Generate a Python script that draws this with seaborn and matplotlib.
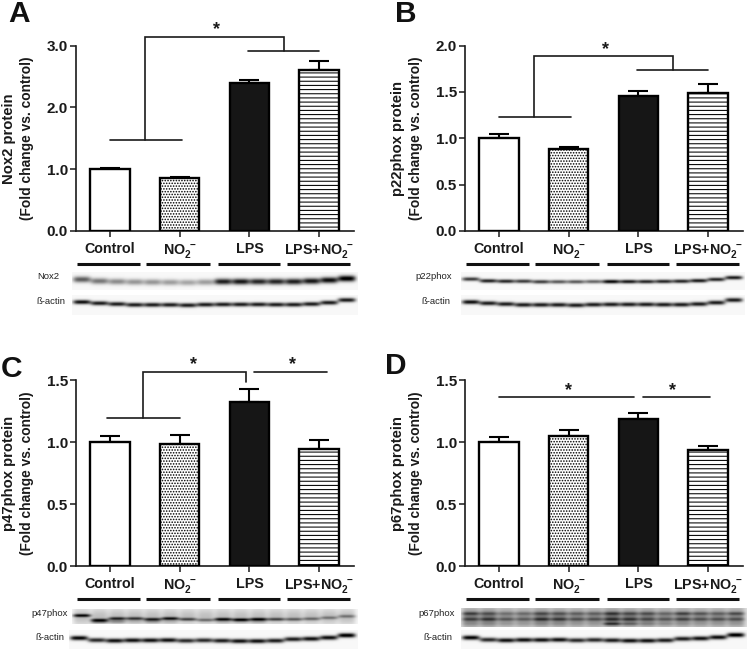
import numpy as np
import pandas as pd
import seaborn as sns
import matplotlib.pyplot as plt
from matplotlib.transforms import blended_transform_factory

sns.set_theme(style="ticks")
plt.rcParams['font.family'] = ['Liberation Sans', 'DejaVu Sans']
plt.rcParams['mathtext.fontset'] = 'custom'
plt.rcParams['mathtext.bf'] = 'Liberation Sans:bold'
plt.rcParams['mathtext.rm'] = 'Liberation Sans:bold'
plt.rcParams['hatch.linewidth'] = 0.75

# Datos de las barras
grupos = ["Control", r"$\mathbf{NO_2^{\ -}}$", "LPS", r"LPS+$\mathbf{NO_2^{\ -}}$"]
nox2_valores = [1.00, 0.85, 2.40, 2.61]
nox2_error = [0.02, 0.02, 0.05, 0.14]
p22_valores = [1.00, 0.88, 1.46, 1.49]
p22_error = [0.05, 0.03, 0.05, 0.10]
p47_valores = [1.00, 0.99, 1.33, 0.95]
p47_error = [0.05, 0.07, 0.10, 0.07]
p67_valores = [1.00, 1.05, 1.19, 0.94]
p67_error = [0.04, 0.05, 0.05, 0.03]
ticks_a = [0.0, 1.0, 2.0, 3.0]
ticks_b = [0.0, 0.5, 1.0, 1.5, 2.0]
ticks_cd = [0.0, 0.5, 1.0, 1.5]

# Oscuridad de cada carril en las membranas (16 carriles)
nox2_carriles = [.6, .5, .42, .38, .38, .35, .32, .35, .85, .88, .82, .82, .85, .88, .92, 1.0]
nox2_despl = [-.12, -.03, 0, .02, .03, .04, .05, .03, 0, 0, 0, 0, 0, -.03, -.08, -.17]
p22_carriles = [.72, .82, .8, .72, .7, .6, .6, .55, .92, .85, .8, .8, .8, .85, .8, .85]
p22_despl = [-.12, -.02, 0, 0, .03, .03, .03, .02, .02, .02, .02, .01, 0, -.03, -.1, -.2]
p47_carriles = [.72, .55, .6, .55, .6, .68, .5, .35, .7, .72, .72, .5, .4, .35, .3, .3]
p47_despl = [-.2, .1, 0, 0, .05, 0, .05, .1, .05, .08, .05, .05, .05, .02, -.05, -.15]
p47_banda2 = [0, .35, .25, .1, .2, .1, 0, 0, .12, .12, .15, 0, 0, 0, 0, 0]
p67_carriles_a = [.3, .22, .16, .18, .24, .22, .2, .2, .3, .24, .24, .18, .3, .24, .2, .28]
p67_carriles_b = [.25, .28, .22, .2, .3, .28, .22, .22, .28, .28, .22, .2, .25, .22, .22, .22]
p67_carriles_c = [.05, .05, .05, .04, .05, .05, .03, .03, .38, .2, .1, .08, .05, .03, .03, .03]
p67_fondo = [.4, .42, .33, .33, .42, .4, .36, .36, .45, .42, .4, .35, .38, .36, .36, .36]
actina_a = [.9, .85, .85, .85, .85, .85, .85, .85, .85, .85, .85, .85, .85, .85, .85, .85]
actina_despl = [-.08, -.02, .02, .06, .06, .06, .08, .05, .04, .04, .04, .05, .05, .02, -.05, -.18]
actina_c = [.95, .8, .9, .9, .9, .9, .8, .8, .85, .9, .9, .85, .85, .9, .92, 1.0]
actina_c_despl = [-.06, .05, .08, .06, .06, .05, .08, .06, .08, .1, .1, .08, 0, -.02, -.08, -.2]

colores = ["white", "white", "#161616", "white"]
tramas = [None, "......", None, "----"]

W, H = 750, 650
fig = plt.figure(figsize=(W / 100, H / 100), dpi=100, facecolor="white")


def caja(x0, y0, x1, y1):
    # Caja en pixeles de la imagen (y hacia abajo)
    return [x0 / W, 1 - y1 / H, (x1 - x0) / W, (y1 - y0) / H]


def texto(x, y, s, **kw):
    fig.text(x / W, 1 - y / H, s, ha=kw.pop("ha", "center"), va=kw.pop("va", "center"), **kw)


def panel_barras(x0, y_base, valores, error, ticks, ymax):
    ax = fig.add_axes(caja(x0, y_base - 185.5, x0 + 278, y_base))
    df = pd.DataFrame({"grupo": grupos, "valor": valores})
    sns.barplot(data=df, x="grupo", y="valor", hue="grupo", palette=colores, saturation=1,
                width=0.565, edgecolor="black", linewidth=1.7, legend=False, ax=ax, zorder=3)
    for barra, trama in zip(ax.patches, tramas):
        if trama:
            barra.set_hatch(trama)
    ax.errorbar(range(4), valores, yerr=[[0] * 4, error], fmt="none", ecolor="black",
                elinewidth=1.5, capsize=7.5, capthick=1.5, zorder=2)
    ax.set_xlim(-0.49, 3.5)
    ax.set_ylim(0, ymax)
    ax.set_yticks(ticks)
    ax.set_yticklabels([f"{t:.1f}" for t in ticks], fontsize=11, fontweight="bold")
    ax.set_xticks(range(4))
    ax.set_xticklabels(grupos, fontsize=10.3, fontweight="bold")
    ax.tick_params(axis="both", width=1.1, length=4.3, color="#1a1a1a", labelcolor="#1a1a1a")
    ax.tick_params(axis="x", pad=3.5)
    ax.tick_params(axis="y", pad=1.5)
    ax.set_xlabel("")
    ax.set_ylabel("")
    sns.despine(ax=ax)
    for lado in ["left", "bottom"]:
        ax.spines[lado].set_linewidth(1.2)
        ax.spines[lado].set_color("#1a1a1a")
    # Lineas gruesas que agrupan los carriles
    trans = blended_transform_factory(ax.transData, ax.transAxes)
    for a, b in [(-0.47, 0.43), (0.52, 1.43), (1.55, 2.44), (2.54, 3.44)]:
        ax.plot([a, b], [-0.178, -0.178], color="#111111", lw=2.2, transform=trans,
                clip_on=False, solid_capstyle="butt")
    return ax


def lineas(ax, xs, ys):
    ax.plot(xs, ys, color="#1a1a1a", lw=1.2, clip_on=False, solid_joinstyle="miter", zorder=4)


def estrella(ax, x, y):
    ax.text(x, y, "*", ha="center", va="center", fontsize=13, fontweight="bold", color="#1a1a1a", clip_on=False)


def membrana(x0, y0, x1, y1, bandas, fondo=0.03):
    # Dibuja la membrana como heatmap a partir de la oscuridad de cada carril
    ax = fig.add_axes(caja(x0, y0, x1, y1))
    filas, cols = int((y1 - y0) * 2), int((x1 - x0) * 2)
    yy, xx = np.mgrid[0:filas, 0:cols]
    yy = (yy + 0.5) / filas
    xx = (xx + 0.5) / cols
    centros = np.linspace(0.034, 0.96, 16)
    paso = centros[1] - centros[0]
    img = np.full((filas, cols), float(fondo))
    for yc, sigma, oscuro, despl in bandas:
        for c, d, s in zip(centros, oscuro, despl):
            env = np.exp(-np.abs((xx - c) / (0.5 * paso)) ** 4)
            img += d * env * np.exp(-((yy - yc - s) / sigma) ** 2)
    sns.heatmap(np.clip(img, 0, 1), ax=ax, cmap="gray_r", vmin=0, vmax=1, cbar=False,
                xticklabels=False, yticklabels=False, rasterized=True)
    return ax


cero = [0] * 16

# Panel A
ax = panel_barras(76, 231, nox2_valores, nox2_error, ticks_a, 3.0)
lineas(ax, [0, 1.03], [1.47, 1.47])
lineas(ax, [0.5, 0.5, 2.49, 2.49], [1.47, 3.14, 3.14, 2.91])
lineas(ax, [1.98, 3.0], [2.91, 2.91])
estrella(ax, 1.53, 3.25)
membrana(72, 272, 358, 290, [(.52, .17, nox2_carriles, nox2_despl)])
membrana(72, 295, 358, 315, [(.42, .11, actina_a, actina_despl)])

# Panel B
ax = panel_barras(465, 231, p22_valores, p22_error, ticks_b, 2.0)
lineas(ax, [0, 1.03], [1.234, 1.234])
lineas(ax, [0.5, 0.5, 2.49, 2.49], [1.234, 1.89, 1.89, 1.74])
lineas(ax, [1.98, 3.0], [1.74, 1.74])
estrella(ax, 1.53, 1.96)
membrana(461, 272, 745, 290, [(.5, .11, p22_carriles, p22_despl)])
membrana(461, 295, 745, 315, [(.42, .11, actina_a, actina_despl)])

# Panel C
ax = panel_barras(76, 566, p47_valores, p47_error, ticks_cd, 1.5)
lineas(ax, [-0.04, 1.0], [1.195, 1.195])
lineas(ax, [0.47, 0.47, 1.947, 1.947], [1.195, 1.567, 1.567, 1.49])
lineas(ax, [2.07, 3.11], [1.567, 1.567])
estrella(ax, 1.2, 1.63)
estrella(ax, 2.62, 1.63)
membrana(72, 609, 358, 624, [(.5, .6, [.22] * 16, cero), (.62, .11, p47_carriles, p47_despl),
                             (.82, .13, p47_banda2, cero)], fondo=0.03)
membrana(69, 630, 358, 649, [(.47, .12, actina_c, actina_c_despl)])

# Panel D
ax = panel_barras(465, 566, p67_valores, p67_error, ticks_cd, 1.5)
lineas(ax, [0, 1.93], [1.368, 1.368])
lineas(ax, [2.07, 3.02], [1.368, 1.368])
estrella(ax, 1.0, 1.42)
estrella(ax, 2.49, 1.42)
membrana(461, 608, 747, 627, [(.5, .55, p67_fondo, cero), (.28, .09, p67_carriles_a, cero),
                              (.58, .09, p67_carriles_b, cero), (.82, .08, p67_carriles_c, cero)], fondo=0.12)
membrana(461, 630, 747, 649, [(.45, .12, actina_c, actina_c_despl)])

# Titulos de eje de dos lineas
for x0, yc, nombre in [(76, 138.5, "Nox2 protein"), (465, 138.5, "p22phox protein"),
                       (76, 473.5, "p47phox protein"), (465, 473.5, "p67phox protein")]:
    texto(x0 - 67, yc, nombre, rotation=90, fontsize=10.7, fontweight="bold", color="#1a1a1a")
    texto(x0 - 49, yc, "(Fold change vs. control)", rotation=90, fontsize=9.9, fontweight="bold", color="#1a1a1a")

# Letras de los paneles
for x, y, letra in [(19, 14, "A"), (406, 14, "B"), (11, 369, "C"), (396, 366, "D")]:
    texto(x, y, letra, fontsize=21.5, fontweight="bold", color="#111111")

# Rotulos de las membranas
for x, y, s in [(59, 277, "Nox2"), (65, 302, "ß-actin"), (452, 277, "p22phox"), (450, 302, "ß-actin"),
                (68, 613, "p47phox"), (64, 638, "ß-actin"), (455, 613, "p67phox"), (452, 637, "ß-actin")]:
    texto(x, y, s, ha="right", fontsize=6.8, color="#222222")

fig.savefig("out.png", dpi=100)
